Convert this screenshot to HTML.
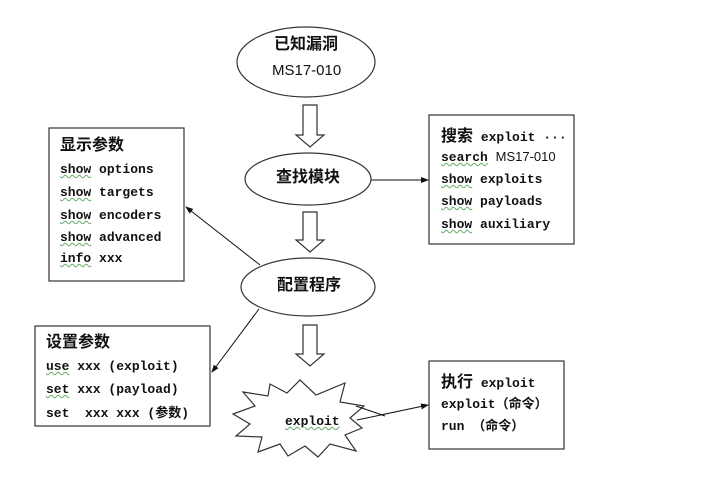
<!DOCTYPE html>
<html><head><meta charset="utf-8"><style>
body{margin:0;background:#fff;}
#c{position:relative;width:720px;height:489px;overflow:hidden;}
.t{position:absolute;font-family:"Liberation Mono","Noto Sans CJK SC",monospace;font-weight:bold;font-size:13px;color:#111;white-space:pre;line-height:16px;}
.h{font-family:"Liberation Sans","Noto Sans CJK SC",sans-serif;font-size:16px;}
.u{text-decoration:underline wavy #6a6;text-decoration-thickness:1px;}
.cn{font-family:"Noto Sans CJK SC",sans-serif;}
</style></head><body><div id="c">
<svg width="720" height="489" style="position:absolute;left:0;top:0">
<defs><marker id="a" markerWidth="8" markerHeight="8" refX="7" refY="4" orient="auto" markerUnits="userSpaceOnUse"><path d="M0,1 L8,4 L0,7z" fill="#111"/></marker></defs>
<g fill="#fff" stroke="#333" stroke-width="1.2">
<ellipse cx="306" cy="62" rx="69" ry="35"/>
<ellipse cx="308" cy="179" rx="63" ry="26"/>
<ellipse cx="308" cy="287" rx="67" ry="29"/>
<rect x="429" y="115" width="145" height="129"/>
<rect x="49" y="128" width="135" height="153"/>
<rect x="35" y="326" width="175" height="100"/>
<rect x="429" y="361" width="135" height="88"/>
<path d="M303,105 H317 V135 H324 L310,147 L296,135 H303Z"/>
<path d="M303,212 H317 V240 H324 L310,252 L296,240 H303Z"/>
<path d="M303,325 H317 V354 H324 L310,366 L296,354 H303Z"/>
<polygon points="300,380 316,395 345,383 340,402 364,406 350,418 362,428 345,435 356,451 330,444 318,457 305,446 288,456 280,444 258,452 262,437 236,436 250,424 233,414 255,406 243,392 268,396 270,384 287,393"/>
</g>
<g stroke="#111" stroke-width="1" fill="none">
<line x1="371" y1="180" x2="428" y2="180" marker-end="url(#a)"/>
<line x1="260" y1="265" x2="186" y2="207" marker-end="url(#a)"/>
<line x1="259" y1="309" x2="212" y2="372" marker-end="url(#a)"/>
<line x1="357" y1="420" x2="428" y2="405" marker-end="url(#a)"/>
<line x1="356" y1="406" x2="385" y2="416"/>
</g>
</svg>
<div class="t h" style="left:274px;top:37px">已知漏洞</div>
<div class="t" style="left:272px;top:63px;font-family:'Liberation Sans',sans-serif;font-weight:normal;font-size:15px">MS17-010</div>
<div class="t h" style="left:276px;top:170px">查找模块</div>
<div class="t h" style="left:277px;top:278px">配置程序</div>
<div class="t" style="left:285px;top:414px"><span class="u">exploit</span></div>

<div class="t" style="left:441px;top:126px"><span class="h cn">搜索</span> exploit ···</div>
<div class="t" style="left:441px;top:149px"><span class="u">search</span> <span style="font-family:'Liberation Sans';font-weight:normal">MS17-010</span></div>
<div class="t" style="left:441px;top:172px"><span class="u">show</span> exploits</div>
<div class="t" style="left:441px;top:194px"><span class="u">show</span> payloads</div>
<div class="t" style="left:441px;top:217px"><span class="u">show</span> auxiliary</div>

<div class="t h" style="left:60px;top:138px">显示参数</div>
<div class="t" style="left:60px;top:162px"><span class="u">show</span> options</div>
<div class="t" style="left:60px;top:185px"><span class="u">show</span> targets</div>
<div class="t" style="left:60px;top:208px"><span class="u">show</span> encoders</div>
<div class="t" style="left:60px;top:230px"><span class="u">show</span> advanced</div>
<div class="t" style="left:60px;top:251px"><span class="u">info</span> xxx</div>

<div class="t h" style="left:46px;top:335px">设置参数</div>
<div class="t" style="left:46px;top:359px"><span class="u">use</span> xxx (exploit)</div>
<div class="t" style="left:46px;top:382px"><span class="u">set</span> xxx (payload)</div>
<div class="t" style="left:46px;top:404px">set  xxx xxx (<span class="cn">参数</span>)</div>

<div class="t" style="left:441px;top:372px"><span class="h cn">执行</span> exploit</div>
<div class="t" style="left:441px;top:395px">exploit（<span class="cn">命令</span>）</div>
<div class="t" style="left:441px;top:417px">run （<span class="cn">命令</span>）</div>
</div></body></html>
